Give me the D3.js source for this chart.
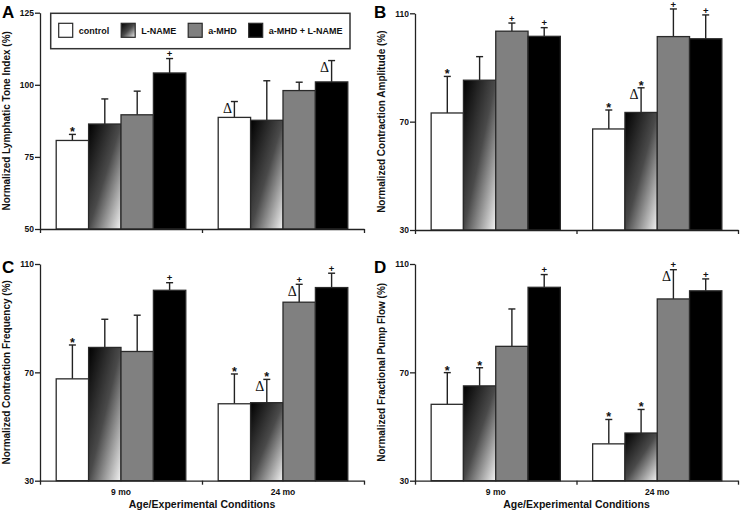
<!DOCTYPE html>
<html><head><meta charset="utf-8">
<script src="https://cdn.jsdelivr.net/npm/d3@7"></script>
<style>body{margin:0;background:#fff} svg{display:block;font-family:"Liberation Sans",Arial,sans-serif}</style>
</head><body><svg id="c" width="741" height="511"></svg>
<script>
// ---- data ----
const groups = ["9 mo", "24 mo"];
const series = ["control", "L-NAME", "a-MHD", "a-MHD + L-NAME"];

const toneMean = [[80.7, 86.4, 89.6, 104.1], [88.7, 87.7, 98.0, 101.0]];
const toneErr  = [[2.1, 8.7, 8.2, 5.0], [5.5, 13.7, 2.9, 7.4]];
const toneMarks = [["*", "", "", "+"], ["Δ", "", "", "Δ"]];

const ampMean = [[73.2, 85.3, 103.4, 101.5], [67.3, 73.4, 101.4, 100.6]];
const ampErr  = [[13.5, 8.7, 3.0, 3.2], [7.0, 9.1, 10.2, 8.8]];
const ampMarks = [["*", "", "+", "+"], ["*", "Δ*", "+", "+"]];

const freqMean = [[67.6, 79.2, 77.7, 100.3], [58.4, 58.8, 95.9, 101.3]];
const freqErr  = [[12.5, 10.4, 13.4, 2.8], [11.0, 8.6, 6.6, 5.3]];
const freqMarks = [["*", "", "", "+"], ["*", "Δ*", "Δ+", "+"]];

const flowMean = [[58.2, 65.0, 79.6, 101.4], [43.6, 47.6, 97.1, 100.1]];
const flowErr  = [[11.7, 6.7, 13.8, 4.7], [9.0, 8.7, 10.8, 4.4]];
const flowMarks = [["*", "*", "", "+"], ["*", "*", "Δ+", "+"]];

const toneTicks = [50, 75, 100, 125];
const pctTicks = [30, 70, 110];
const xTitle = "Age/Experimental Conditions";

// ---- layout ----
const svg = d3.select("#c");
const defs = svg.append("defs");
const grad = defs.append("linearGradient").attr("id", "lname")
  .attr("x1", 0).attr("y1", 0).attr("x2", 1).attr("y2", 1);
grad.append("stop").attr("offset", 0).attr("stop-color", "#000");
grad.append("stop").attr("offset", 0.5).attr("stop-color", "#4a4a4a");
grad.append("stop").attr("offset", 1).attr("stop-color", "#f4f4f4");

const fills = d3.scaleOrdinal().domain(series).range(["#ffffff", "url(#lname)", "#808080", "#000000"]);

const panels = [
  {letter: "A", title: "Normalized Lymphatic Tone Index (%)", domain: [50, 125], ticks: toneTicks,
   mean: toneMean, err: toneErr, marks: toneMarks, x0: 40, x1: 364, y0: 12.7, y1: 229, showX: false, lx: 2, ly: 18},
  {letter: "B", title: "Normalized Contraction Amplitude (%)", domain: [30, 110], ticks: pctTicks,
   mean: ampMean, err: ampErr, marks: ampMarks, x0: 415, x1: 738, y0: 13.3, y1: 230, showX: false, lx: 374, ly: 18},
  {letter: "C", title: "Normalized Contraction Frequency (%)", domain: [30, 110], ticks: pctTicks,
   mean: freqMean, err: freqErr, marks: freqMarks, x0: 40, x1: 364, y0: 264, y1: 480.7, showX: true, lx: 2, ly: 273},
  {letter: "D", title: "Normalized Fractional Pump Flow (%)", domain: [30, 110], ticks: pctTicks,
   mean: flowMean, err: flowErr, marks: flowMarks, x0: 415, x1: 738, y0: 264, y1: 480.7, showX: true, lx: 374, ly: 273}
];

const ink = "#222";

panels.forEach(p => {
  const g = svg.append("g");
  const y = d3.scaleLinear().domain(p.domain).range([p.y1, p.y0]);
  const xg = d3.scaleBand().domain(groups).range([p.x0, p.x1]).paddingInner(0.2).paddingOuter(0.1);
  const xs = d3.scaleBand().domain(series).range([0, xg.bandwidth()]);

  const rows = [];
  groups.forEach((gr, gi) => series.forEach((s, si) => {
    rows.push({g: gr, s: s, v: p.mean[gi][si], e: p.err[gi][si], m: p.marks[gi][si]});
  }));

  // error bars
  const eb = g.append("g").attr("stroke", ink).attr("stroke-width", 1.4);
  rows.forEach(d => {
    const cx = xg(d.g) + xs(d.s) + xs.bandwidth() / 2;
    eb.append("line").attr("x1", cx).attr("x2", cx).attr("y1", y(d.v)).attr("y2", y(d.v + d.e));
    eb.append("line").attr("x1", cx - 3.5).attr("x2", cx + 3.5).attr("y1", y(d.v + d.e)).attr("y2", y(d.v + d.e));
  });

  // bars
  g.append("g").selectAll("rect").data(rows).join("rect")
    .attr("x", d => xg(d.g) + xs(d.s))
    .attr("y", d => y(d.v))
    .attr("width", xs.bandwidth())
    .attr("height", d => y(p.domain[0]) - y(d.v))
    .attr("fill", d => fills(d.s))
    .attr("stroke", "#2a2a2a").attr("stroke-width", 1.3);

  // significance markers
  rows.forEach(d => {
    if (!d.m) return;
    const cx = xg(d.g) + xs(d.s) + xs.bandwidth() / 2;
    const cy = y(d.v + d.e);
    if (d.m.includes("Δ")) {
      g.append("text").attr("x", cx - 2.5).attr("y", cy + 11.5).attr("text-anchor", "end")
        .attr("font-family", "'Liberation Serif','Times New Roman',serif").attr("font-size", 14).attr("fill", "#111").text("Δ");
    }
    if (d.m.includes("*")) {
      g.append("text").attr("x", cx).attr("y", cy + 2).attr("text-anchor", "middle")
        .attr("font-weight", "bold").attr("font-size", 12.5).attr("fill", "#111").text("*");
    }
    if (d.m.includes("+")) {
      g.append("text").attr("x", cx).attr("y", cy - 1.3).attr("text-anchor", "middle")
        .attr("font-weight", "bold").attr("font-size", 9.5).attr("fill", "#111").text("+");
    }
  });

  // y axis
  const ya = g.append("g").attr("transform", `translate(${p.x0},0)`)
    .call(d3.axisLeft(y).tickValues(p.ticks).tickSize(5).tickSizeOuter(0).tickPadding(1));
  ya.selectAll("path,line").attr("stroke", ink).attr("stroke-width", 1.3);
  ya.selectAll("text").attr("font-family", "'Liberation Sans',Arial,sans-serif")
    .attr("font-weight", "bold").attr("font-size", 8.5).attr("fill", "#111");

  // x axis
  const xl = d3.scaleLinear().domain([0, groups.length]).range([p.x0, p.x1]);
  const xa = g.append("g").attr("transform", `translate(0,${p.y1})`)
    .call(d3.axisBottom(xl).tickValues(d3.range(groups.length + 1)).tickSize(4).tickSizeOuter(0).tickFormat(""));
  xa.selectAll("path,line").attr("stroke", ink).attr("stroke-width", 1.3);

  if (p.showX) {
    g.selectAll("text.grp").data(groups).join("text").attr("class", "grp")
      .attr("x", d => xg(d) + xg.bandwidth() / 2).attr("y", p.y1 + 14.5)
      .attr("text-anchor", "middle").attr("font-weight", "bold").attr("font-size", 8.5).attr("fill", "#111")
      .text(d => d);
    g.append("text").attr("x", (p.x0 + p.x1) / 2).attr("y", p.y1 + 27)
      .attr("text-anchor", "middle").attr("font-weight", "bold").attr("font-size", 10.5).attr("fill", "#111")
      .text(xTitle);
  }

  // y title
  g.append("text").attr("transform", `translate(${p.x0 - 30},${(p.y0 + p.y1) / 2}) rotate(-90)`)
    .attr("text-anchor", "middle").attr("font-weight", "bold").attr("font-size", 10).attr("fill", "#111")
    .text(p.title);

  // panel letter
  g.append("text").attr("x", p.lx).attr("y", p.ly).attr("font-weight", "bold").attr("font-size", 17)
    .attr("fill", "#000").text(p.letter);
});

// legend (inside panel A)
const lg = svg.append("g");
lg.append("rect").attr("x", 50.7).attr("y", 13.3).attr("width", 299.3).attr("height", 35.4)
  .attr("fill", "#fff").attr("stroke", "#333").attr("stroke-width", 1.5);
let lx = 58.7;
series.forEach(s => {
  lg.append("rect").attr("x", lx).attr("y", 23.3).attr("width", 14).attr("height", 14)
    .attr("fill", fills(s)).attr("stroke", "#2a2a2a").attr("stroke-width", 1.2);
  const t = lg.append("text").attr("x", lx + 20).attr("y", 33.7)
    .attr("font-weight", "bold").attr("font-size", 9).attr("fill", "#111").text(s);
  lx += 20 + t.node().getComputedTextLength() + 12;
});
</script></body></html>
